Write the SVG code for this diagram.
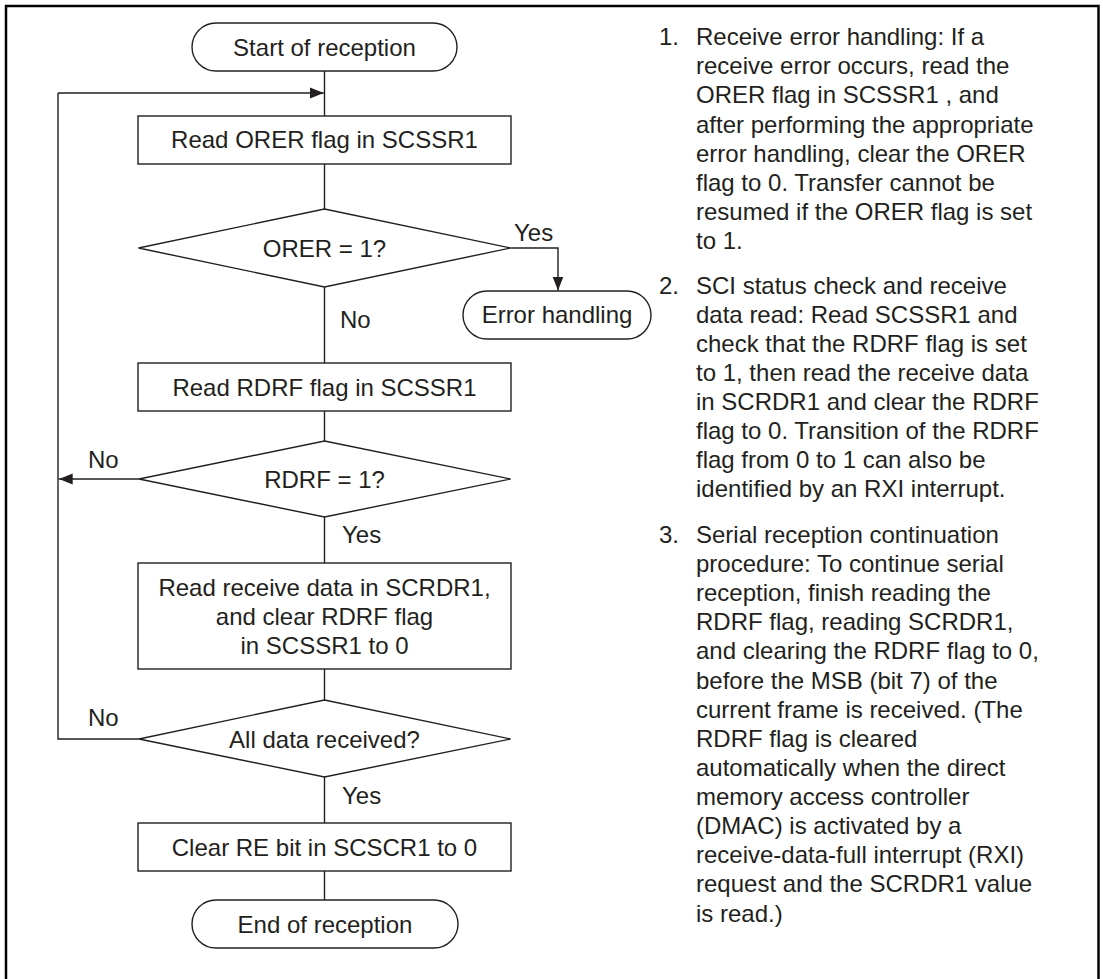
<svg xmlns="http://www.w3.org/2000/svg" width="1103" height="979" viewBox="0 0 1103 979">
<defs>
<style>
.s{fill:#fff;stroke:#231f20;stroke-width:1.4}
.c{fill:none;stroke:#231f20;stroke-width:1.4}
text{font-family:"Liberation Sans",Arial,sans-serif;font-size:24px;fill:#231f20}
.m{text-anchor:middle}
</style>
<marker id="ah" markerUnits="userSpaceOnUse" markerWidth="14" markerHeight="12" refX="14" refY="6" orient="auto">
<path d="M0,0.5 L14,6 L0,11.5 Z" fill="#231f20"/>
</marker>
</defs>
<rect width="1103" height="979" fill="#fff"/>
<path d="M6,979 V6 H1098.5 V979" fill="none" stroke="#000" stroke-width="2.5"/>
<g id="connectors">
<path class="c" d="M324.5,71 V116"/>
<path class="c" d="M58,93 H323.8" marker-end="url(#ah)"/>
<path class="c" d="M324.5,164 V209"/>
<path class="c" d="M511,248 H558 V290.5" marker-end="url(#ah)"/>
<path class="c" d="M324.5,287 V363"/>
<path class="c" d="M324.5,411 V441"/>
<path class="c" d="M139,479 H58.7" marker-end="url(#ah)"/>
<path class="c" d="M324.5,517 V563"/>
<path class="c" d="M324.5,669 V700"/>
<path class="c" d="M139,739 H58 V93"/>
<path class="c" d="M324.5,777 V823"/>
<path class="c" d="M324.5,871 V900"/>
<text x="514" y="241">Yes</text>
<text x="340" y="328">No</text>
<text x="88" y="468">No</text>
<text x="342" y="543">Yes</text>
<text x="88" y="726">No</text>
<text x="342" y="804">Yes</text>
</g>
<g id="start">
<rect class="s" x="192" y="23" width="265" height="48" rx="24" ry="24"/>
<text class="m" x="324.5" y="55.5">Start of reception</text>
</g>
<g id="read-orer">
<rect class="s" x="138" y="116" width="373" height="48"/>
<text class="m" x="324.5" y="148">Read ORER flag in SCSSR1</text>
</g>
<g id="orer-check">
<polygon class="s" points="324.5,209 510.5,248 324.5,287 138.5,248"/>
<text class="m" x="324.5" y="256.5">ORER = 1?</text>
</g>
<g id="error-handling">
<rect class="s" x="463" y="291" width="188" height="48" rx="24" ry="24"/>
<text class="m" x="557" y="323">Error handling</text>
</g>
<g id="read-rdrf">
<rect class="s" x="138" y="363" width="373" height="48"/>
<text class="m" x="324.5" y="395.5">Read RDRF flag in SCSSR1</text>
</g>
<g id="rdrf-check">
<polygon class="s" points="324.5,441 510.5,479 324.5,517 139,479"/>
<text class="m" x="324.5" y="487.5">RDRF = 1?</text>
</g>
<g id="read-data">
<rect class="s" x="138" y="563" width="373" height="106"/>
<text class="m" x="324.5" y="595.5">Read receive data in SCRDR1,</text>
<text class="m" x="324.5" y="624.5">and clear RDRF flag</text>
<text class="m" x="324.5" y="653.5">in SCSSR1 to 0</text>
</g>
<g id="all-data-check">
<polygon class="s" points="324.5,700 510.5,739 324.5,777 139,739"/>
<text class="m" x="324.5" y="747.5">All data received?</text>
</g>
<g id="clear-re">
<rect class="s" x="138" y="823" width="373" height="48"/>
<text class="m" x="324.5" y="856">Clear RE bit in SCSCR1 to 0</text>
</g>
<g id="end">
<rect class="s" x="192" y="900" width="266" height="48" rx="24" ry="24"/>
<text class="m" x="325" y="932.5">End of reception</text>
</g>
<g id="notes">
<text x="659" y="45">1.</text>
<text x="696" y="45">Receive error handling: If a</text>
<text x="696" y="74">receive error occurs, read the</text>
<text x="696" y="103">ORER flag in SCSSR1 , and</text>
<text x="696" y="132.5">after performing the appropriate</text>
<text x="696" y="161.5">error handling, clear the ORER</text>
<text x="696" y="190.5">flag to 0. Transfer cannot be</text>
<text x="696" y="219.5">resumed if the ORER flag is set</text>
<text x="696" y="249">to 1.</text>
<text x="659" y="293.5">2.</text>
<text x="696" y="293.5">SCI status check and receive</text>
<text x="696" y="322.5">data read: Read SCSSR1 and</text>
<text x="696" y="351.5">check that the RDRF flag is set</text>
<text x="696" y="381">to 1, then read the receive data</text>
<text x="696" y="410">in SCRDR1 and clear the RDRF</text>
<text x="696" y="439">flag to 0. Transition of the RDRF</text>
<text x="696" y="468">flag from 0 to 1 can also be</text>
<text x="696" y="497">identified by an RXI interrupt.</text>
<text x="659" y="543">3.</text>
<text x="696" y="543">Serial reception continuation</text>
<text x="696" y="572">procedure: To continue serial</text>
<text x="696" y="601">reception, finish reading the</text>
<text x="696" y="630">RDRF flag, reading SCRDR1,</text>
<text x="696" y="659">and clearing the RDRF flag to 0,</text>
<text x="696" y="688.5">before the MSB (bit 7) of the</text>
<text x="696" y="717.5">current frame is received. (The</text>
<text x="696" y="746.5">RDRF flag is cleared</text>
<text x="696" y="776">automatically when the direct</text>
<text x="696" y="805">memory access controller</text>
<text x="696" y="834">(DMAC) is activated by a</text>
<text x="696" y="863">receive-data-full interrupt (RXI)</text>
<text x="696" y="892">request and the SCRDR1 value</text>
<text x="696" y="921.5">is read.)</text>
</g>
</svg>
